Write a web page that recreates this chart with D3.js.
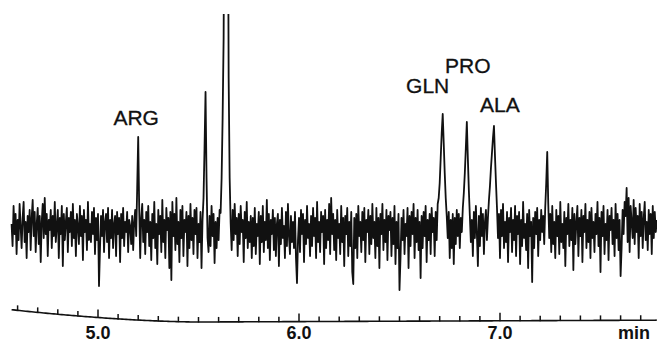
<!DOCTYPE html>
<html>
<head>
<meta charset="utf-8">
<script src="https://cdn.jsdelivr.net/npm/d3@7"></script>
<style>
  html, body { margin: 0; padding: 0; background: #fff; }
  svg { display: block; }
  text { font-family: "Liberation Sans", Arial, Helvetica, sans-serif; fill: #111; }
</style>
</head>
<body>
<svg id="chart" width="657" height="342"></svg>
<script>
// Detector trace sampled every 0.005 min starting at 4.57 min (signal, arbitrary units)
const startMin = 4.57;
const stepMin = 0.005;
const signal = [
  4, -18, 22, -6, 14, -26, 8, -12, 24, 2, -20, 10, 26, -14, 6, -30, 12, -4, 18, -22,
  10, 28, -8, 16, -24, 4, 20, -16, 12, -34, 6, 24, -10, 30, -6, 14, -28, 8, -2, 18,
  -20, 12, -8, 26, -14, 2, 18, -30, 10, -6, 22, -38, 14, -12, 6, 20, -24, 10, -4, 16,
  -18, 24, -10, 8, -28, 14, 2, -16, 22, -8, 12, -32, 18, -4, 8, -22, 26, -12, 4, -14,
  16, -6, 20, -26, 10, -12, 14, -58, -20, 12, -8, 18, -24, 6, 14, -14, 20, -30, 8, -10,
  18, -20, 4, 12, -28, 16, -6, 10, -34, 14, -10, 20, -18, 6, -4, 16, -24, 8, 2, -16,
  12, -22, 6, 18, -8, 40, 91, 20, -30, 10, 24, -14, 8, -26, 16, -4, 22, -18, 6, -32,
  14, -10, 26, -20, 4, -36, 18, -6, 12, -24, 28, -14, 8, -30, 20, -2, 10, -40, 16, -52,
  26, -8, 14, -22, 30, -16, 6, -34, 18, -10, 22, -28, 8, -4, 16, -38, 12, -20, 24, -12,
  10, -26, 18, -6, 20, -30, 4, -14, 16, -40, 8, 30, 80, 136, 50, -10, -24, 12, -18, 22,
  -8, 14, -35, 6, -20, 10, -12, 18, 15, 50, 110, 190, 420, 420, 420, 420, 150, 50, 5, -22,
  18, -12, 24, -6, 10, -28, 14, -16, 22, -4, 8, -34, 16, -10, 26, -20, 6, -14, 12, -30,
  10, -18, 20, -26, 4, -8, 16, -36, 12, -14, 22, -24, 6, -12, 28, -20, 14, -32, 8, -6,
  18, -22, 10, -28, 4, 14, -38, 8, -16, 20, -10, 2, -30, 16, -18, 24, -8, -26, 12, -14,
  6, -20, 16, -30, -55, -12, 10, -24, 18, -6, 14, -34, 8, -16, 22, -10, 4, -28, 12, -18,
  20, -8, 10, -30, 26, -14, 6, -24, 16, -4, 12, -36, 18, -20, 8, -12, 24, -26, 30, -6,
  14, -22, 8, -32, 18, -10, 4, -26, 22, -14, 10, -38, 12, -6, 20, -28, 6, -18, 16, -44,
  -56, 10, -20, 14, -30, 22, -8, 6, -24, 16, -12, 20, -34, 8, -4, 18, -26, 12, -16, 24,
  -10, 6, -30, 20, -18, 10, -40, 14, -6, 24, -22, 8, -14, 18, -32, 12, -2, 16, -28, 10,
  -16, 22, -36, 6, -20, 14, -62, -30, 10, -12, 18, -26, 4, -8, 20, -40, 12, -18, 16, -6,
  24, -30, 10, -14, 18, -22, 6, -50, 12, -20, 16, -8, 22, -34, 8, -12, 14, -26, 20, -4,
  10, -28, 16, -12, 24, 30, 45, 70, 95, 114, 85, 55, 30, 12, -10, 16, -30, 8, -20, 14,
  -36, 10, -16, 18, -8, 14, -20, 10, -4, 20, 35, 55, 80, 106, 70, 38, 12, -14, 8, -28,
  16, -10, 22, -6, -38, 12, -18, 20, -8, 14, -26, 6, 18, -12, 10, 28, 42, 60, 75, 90,
  102, 72, 45, 20, -10, 14, -30, 18, -8, 24, -20, 6, -14, 16, -34, 10, -4, 20, -24, 8,
  -12, 22, -28, 12, -6, 16, -36, 8, -18, 26, -10, 4, -22, 14, -40, 18, -8, 6, -54, 10,
  -20, 16, -6, 20, -28, 8, -12, 18, -4, 12, -16, 20, 45, 76, 25, -10, 14, -24, 22, -16,
  6, -30, 18, -8, 12, -26, 26, -14, 4, -20, 16, -38, 10, -6, 24, -18, 8, -12, 20, -42,
  14, -16, 6, 22, -28, 10, -8, 18, -34, 12, -4, 24, -20, 8, -14, 16, -30, 20, -10, 6,
  -24, 14, -6, 26, -18, 10, -44, 16, -8, 22, -26, 4, -12, 18, -32, 12, -2, 20, -16, 8,
  -28, 24, -10, 14, -22, 8, -48, -20, 18, -6, 26, 12, 40, -14, 30, -24, 22, 6, -10, 28,
  -16, 20, -4, 12, -30, 24, -8, 16, -20, 10, 26, -12, 6, -22, 18, -6, 14, -26, 22, -10,
  16, -4, 8
];

// Peak annotations
const peakNames = ["ARG", "GLN", "PRO", "ALA"];
const peakTimes = [5.200, 6.715, 6.835, 6.970];
// label height above the apex (signal units) and sideways nudge (px)
const labelLift = [12, 21, 49, 14];
const labelNudge = [-2, -15, 1, 6];

// Time axis
const axisMin = 4.57, axisMax = 7.78;
const minorStep = 0.1;
const majorTicks = [5.0, 6.0, 7.0];
const axisUnit = "min";

const svg = d3.select("#chart");
const W = 657, H = 342;

const x = d3.scaleLinear().domain([5.0, 7.0]).range([98, 500]);
const y = d3.scaleLinear().domain([-80, 214]).range([308, 14]);

const points = signal.map((v, i) => [startMin + i * stepMin, v]);

svg.append("defs").append("clipPath").attr("id", "plotClip")
  .append("rect").attr("x", 0).attr("y", y(214)).attr("width", W).attr("height", H - y(214));

const traceLine = d3.line().x(d => x(d[0])).y(d => y(d[1]));

svg.append("path")
  .datum(points)
  .attr("clip-path", "url(#plotClip)")
  .attr("d", traceLine)
  .attr("fill", "none")
  .attr("stroke", "#111")
  .attr("stroke-width", 1.8)
  .attr("stroke-linejoin", "round");

// Peak labels above the apex of each named peak
const signalAt = t => signal[Math.round((t - startMin) / stepMin)];
svg.selectAll("text.peak")
  .data(peakNames)
  .join("text")
  .attr("class", "peak")
  .attr("x", (d, i) => x(peakTimes[i]) + labelNudge[i])
  .attr("y", (d, i) => y(signalAt(peakTimes[i]) + labelLift[i]))
  .attr("text-anchor", "middle")
  .attr("font-size", 21)
  .attr("stroke", "#111")
  .attr("stroke-width", 0.3)
  .text(d => d);

// Time axis: the baseline sags slightly toward the left end of the recording
const axisY = px => 322 - (px - 200) * 0.004 - 13 * Math.pow(Math.max(0, (200 - px) / 188), 1.6);

const axisG = svg.append("g").attr("class", "time-axis");

const axisPts = d3.range(axisMin, axisMax + 1e-9, 0.01).map(t => [x(t), axisY(x(t))]);
axisG.append("path")
  .attr("d", d3.line()(axisPts))
  .attr("fill", "none")
  .attr("stroke", "#111")
  .attr("stroke-width", 1.6);

const tickValues = d3.range(Math.ceil(axisMin / minorStep), Math.floor(axisMax / minorStep) + 1)
  .map(k => k / 10);
const isMajor = t => majorTicks.some(m => Math.abs(m - t) < 1e-6);

axisG.selectAll("line.minor-tick")
  .data(tickValues)
  .join("line")
  .attr("class", "minor-tick")
  .attr("x1", t => x(t)).attr("x2", t => x(t))
  .attr("y1", t => axisY(x(t)) + 0.5)
  .attr("y2", t => axisY(x(t)) - (isMajor(t) ? 8 : 5))
  .attr("stroke", "#111")
  .attr("stroke-width", 1.5);

axisG.selectAll("text.tlabel")
  .data(majorTicks)
  .join("text")
  .attr("class", "tlabel")
  .attr("x", t => x(t))
  .attr("y", 339)
  .attr("text-anchor", "middle")
  .attr("font-size", 18)
  .attr("font-weight", "bold")
  .text(t => t.toFixed(1));

axisG.append("text")
  .attr("x", 634)
  .attr("y", 339)
  .attr("text-anchor", "middle")
  .attr("font-size", 18)
  .attr("font-weight", "bold")
  .text(axisUnit);
</script>
</body>
</html>
